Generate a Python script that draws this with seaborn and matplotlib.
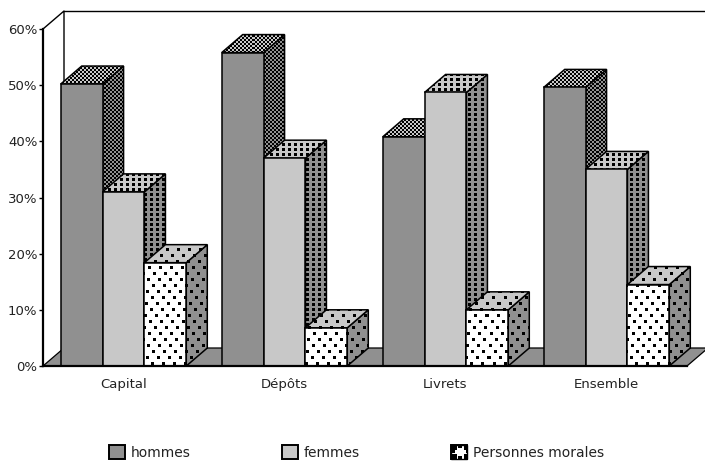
import numpy as np
import pandas as pd
import matplotlib
matplotlib.use('Agg')
import matplotlib.pyplot as plt
from matplotlib.patches import Polygon
import seaborn as sns

categories = ['Capital', 'Dépôts', 'Livrets', 'Ensemble']
groups = ['hommes', 'femmes', 'Personnes morales']
hommes = [50.2, 55.8, 40.8, 49.6]
femmes = [31.0, 37.0, 48.7, 35.0]
morales = [18.4, 6.8, 10.0, 14.5]

DARK = '#909090'
LIGHT = '#c8c8c8'

df = pd.DataFrame({
    'categorie': categories * 3,
    'groupe': np.repeat(groups, 4),
    'part': hommes + femmes + morales,
})

sns.set_theme(style='white', rc={'font.family': 'DejaVu Sans'})
fig = plt.figure(figsize=(7.05, 4.61), dpi=100)
W, H = 705, 461
ax = fig.add_axes([43 / W, (H - 366) / H, 644 / W, 337 / H])

sns.barplot(data=df, x='categorie', y='part', hue='groupe', hue_order=groups,
            palette={'hommes': DARK, 'femmes': LIGHT, 'Personnes morales': 'white'},
            width=0.78, gap=0, edgecolor='black', linewidth=1.1, ax=ax, errorbar=None)
ax.set_xlim(-0.5, 3.5)
ax.set_ylim(0, 60)
ax.autoscale(False)

# depth of the fake 3D, in data units
dx = 21 / 161
dy = 18 / (337 / 60)


def mask_checker(xx, yy):
    return (xx // 2 + yy // 2) % 2 == 0


def mask_dense(xx, yy):
    return (xx % 6 < 3) & (yy % 5 < 3)


def mask_sparse(xx, yy):
    row = yy // 6
    return ((xx + row * 5) % 11 < 3) & (yy % 6 < 3)


def textured(points, mask_func, bg, z, lw=1.1):
    # fill a polygon with a pixel pattern, black on bg
    pts = ax.transData.transform(points)
    x0, y0 = np.floor(pts.min(axis=0)).astype(int)
    x1, y1 = np.ceil(pts.max(axis=0)).astype(int)
    yy, xx = np.mgrid[y1 - 1:y0 - 1:-1, x0:x1]
    rgb = np.array(matplotlib.colors.to_rgb(bg))
    img = np.ones((y1 - y0, x1 - x0, 3)) * rgb
    img[mask_func(xx, yy)] = 0
    (l, b), (r, t) = ax.transData.inverted().transform([(x0, y0), (x1, y1)])
    im = ax.imshow(img, extent=(l, r, b, t), origin='upper', aspect='auto',
                   interpolation='nearest', zorder=z)
    im.set_clip_box(fig.bbox)
    im.set_clip_path(Polygon(points, transform=ax.transData))
    ax.add_patch(Polygon(points, closed=True, fill=False, edgecolor='black',
                         linewidth=lw, zorder=z + 0.1, clip_on=False))


# floor and back wall
floor = [(-0.5, 0), (-0.5 + dx, dy), (3.5 + dx, dy), (3.5, 0)]
ax.add_patch(Polygon(floor, closed=True, facecolor=DARK, edgecolor='black',
                     linewidth=0.9, zorder=1, clip_on=False))
ax.plot([-0.5, -0.5 + dx, -0.5 + dx], [60, 60 + dy, dy], color='black', lw=1.0, zorder=1, clip_on=False)
ax.plot([-0.5 + dx, 3.5 + dx], [60 + dy, 60 + dy], color='black', lw=1.0, zorder=1, clip_on=False)

styles = [
    (mask_checker, LIGHT, mask_checker, DARK),
    (mask_dense, LIGHT, mask_dense, DARK),
    (mask_sparse, LIGHT, mask_sparse, DARK),
]
for j, container in enumerate(ax.containers):
    top_mask, top_bg, side_mask, side_bg = styles[j]
    for bar in container:
        x0, x1 = bar.get_x(), bar.get_x() + bar.get_width()
        h = bar.get_height()
        z = 3 + j
        side = [(x1, 0), (x1 + dx, dy), (x1 + dx, h + dy), (x1, h)]
        top = [(x0, h), (x0 + dx, h + dy), (x1 + dx, h + dy), (x1, h)]
        textured(side, side_mask, side_bg, z)
        textured(top, top_mask, top_bg, z + 0.2)
        bar.set_zorder(z + 0.5)
        if j == 2:
            textured(bar.get_corners(), mask_sparse, 'white', z + 0.5)

ax.set_yticks([0, 10, 20, 30, 40, 50, 60])
ax.set_yticklabels(['0%', '10%', '20%', '30%', '40%', '50%', '60%'])
ax.set_xlabel('')
ax.set_ylabel('')
ax.tick_params(axis='y', length=3, width=1, color='black', pad=1, labelsize=9.5, left=True, labelcolor='#222222')
ax.tick_params(axis='x', length=0, pad=8.5, labelsize=9.5, labelcolor='#222222')
for name in ['top', 'right']:
    ax.spines[name].set_visible(False)
for name in ['left', 'bottom']:
    ax.spines[name].set_color('black')
    ax.spines[name].set_linewidth(1.6)
    ax.spines[name].set_zorder(8)

sns.move_legend(ax, 'lower left', bbox_to_anchor=(109 / W, 1 / H), bbox_transform=fig.transFigure,
                ncol=3, frameon=False, title=None, fontsize=10, handlelength=1.15, handleheight=1.15,
                handletextpad=0.4, columnspacing=6.6, borderpad=0, borderaxespad=0)
legend = ax.get_legend()
for text in legend.get_texts():
    text.set_color('#222222')
for handle in legend.get_patches():
    handle.set_linewidth(1.4)

# pattern of the third legend box
fig.canvas.draw()
box = legend.get_patches()[2].get_window_extent()


def mask_legend(xx, yy):
    u = np.minimum(xx - box.x0, box.x1 - xx)
    v = np.minimum(yy - box.y0, box.y1 - yy)
    corners = (u < 5) & (v < 5)
    notch_u = (np.abs(xx - (box.x0 + box.x1) / 2) < 1.5) & (v < 3)
    notch_v = (np.abs(yy - (box.y0 + box.y1) / 2) < 1.5) & (u < 3)
    return corners | notch_u | notch_v


box_points = ax.transData.inverted().transform([(box.x0, box.y0), (box.x1, box.y0),
                                                (box.x1, box.y1), (box.x0, box.y1)])
textured(box_points, mask_legend, 'white', 6, lw=1.0)

fig.savefig('out.png', dpi=100)
